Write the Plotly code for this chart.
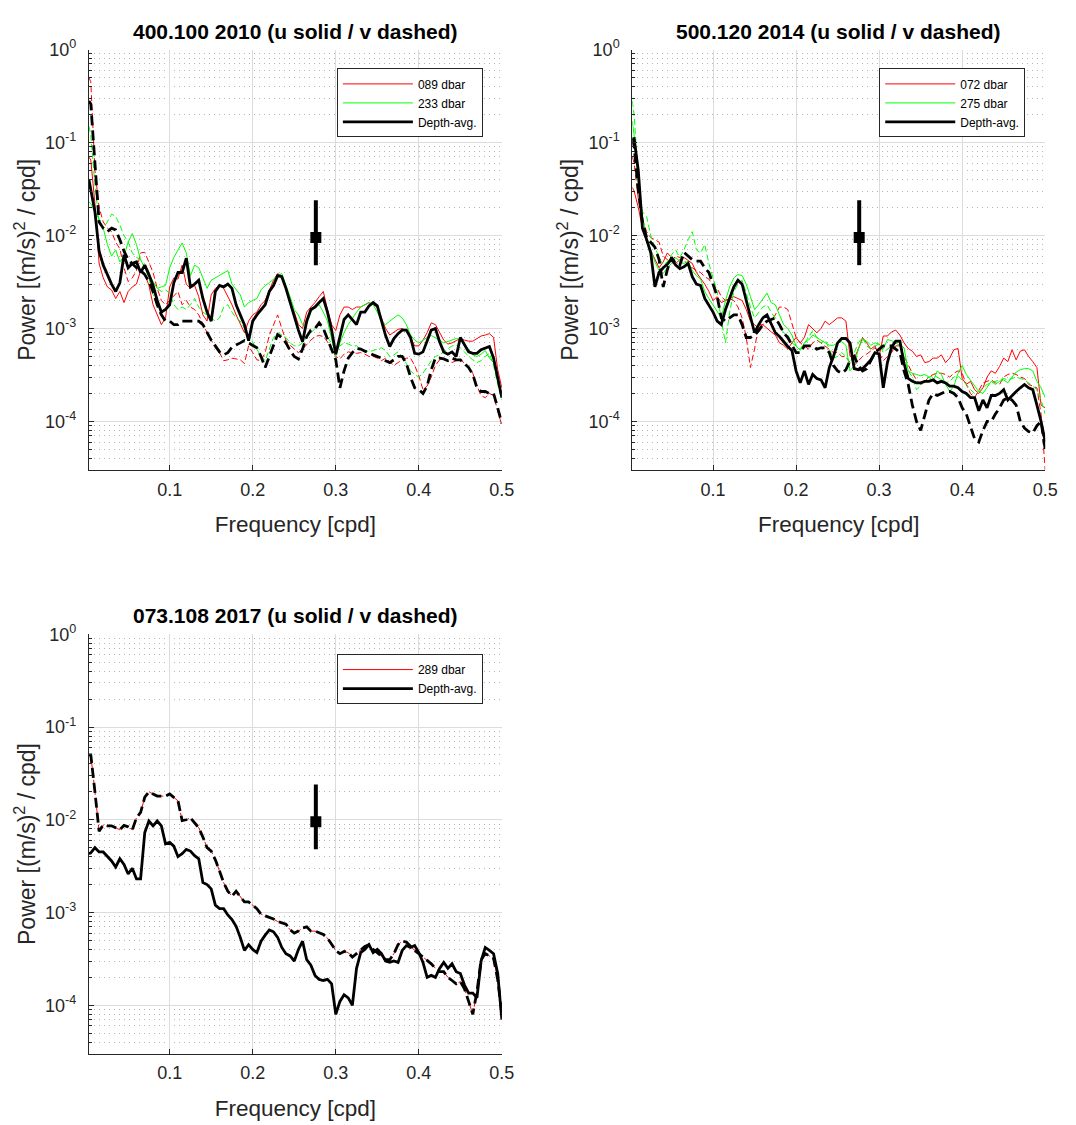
import plotly.graph_objects as go

# ---------------- data ----------------
freq = [0.0027, 0.005, 0.010, 0.015, 0.020, 0.025, 0.030, 0.035, 0.040, 0.045,
        0.050, 0.055, 0.060, 0.065, 0.070, 0.075, 0.080, 0.085, 0.090, 0.095,
        0.100, 0.105, 0.110, 0.115, 0.120, 0.125, 0.130, 0.135, 0.140, 0.145,
        0.150, 0.155, 0.160, 0.165, 0.170, 0.175, 0.180, 0.185, 0.190, 0.195,
        0.200, 0.205, 0.210, 0.215, 0.220, 0.225, 0.230, 0.235, 0.240, 0.245,
        0.250, 0.255, 0.260, 0.265, 0.270, 0.275, 0.280, 0.285, 0.290, 0.295,
        0.300, 0.305, 0.310, 0.315, 0.320, 0.325, 0.330, 0.335, 0.340, 0.345,
        0.350, 0.355, 0.360, 0.365, 0.370, 0.375, 0.380, 0.385, 0.390, 0.395,
        0.400, 0.405, 0.410, 0.415, 0.420, 0.425, 0.430, 0.435, 0.440, 0.445,
        0.450, 0.455, 0.460, 0.465, 0.470, 0.475, 0.480, 0.485, 0.490, 0.495,
        0.500]

# Panel 1: 400.100 2010
p1_089_u = [0.07, 0.065, 0.022, 0.005, 0.0035, 0.0028, 0.0026, 0.0021, 0.0025, 0.0019,
            0.0025, 0.0028, 0.003, 0.0042, 0.0039, 0.0029, 0.0018, 0.0014, 0.0011, 0.0013,
            0.0028, 0.0035, 0.0034, 0.0048, 0.003, 0.0027, 0.0029, 0.0022, 0.0014, 0.0012,
            0.0023, 0.0027, 0.0029, 0.0027, 0.0022, 0.0018, 0.0014, 0.0011, 0.0009, 0.0012,
            0.0014, 0.0015, 0.0018, 0.002, 0.0026, 0.0033, 0.0039, 0.0037, 0.0028, 0.0019,
            0.0015, 0.0011, 0.001, 0.0015, 0.0017, 0.0019, 0.0022, 0.0025, 0.0016, 0.0011,
            0.00095, 0.0014, 0.0017, 0.0017, 0.0016, 0.0017, 0.0017, 0.0018, 0.0019, 0.0018,
            0.0017, 0.0013, 0.001, 0.00085, 0.00092, 0.00098, 0.001, 0.00095, 0.0008, 0.00065,
            0.00065, 0.00075, 0.0009, 0.00115, 0.0011, 0.0009, 0.00075, 0.00068, 0.0007, 0.00074,
            0.00078, 0.00075, 0.00073, 0.00073, 0.00078, 0.00083, 0.00085, 0.00088, 0.0008, 0.00036,
            0.00023]
p1_089_v = [0.5, 0.45, 0.05, 0.02, 0.014, 0.012, 0.011, 0.0085, 0.0072, 0.0045,
            0.0032, 0.0035, 0.0042, 0.0065, 0.0066, 0.0052, 0.004, 0.0027, 0.002, 0.0018,
            0.002, 0.0022, 0.0025, 0.0018, 0.002, 0.0017, 0.0016, 0.0014, 0.0011, 0.0009,
            0.00075, 0.00062, 0.00055, 0.00045, 0.00046, 0.00048, 0.00047, 0.00046, 0.00042, 0.00065,
            0.00055, 0.00046, 0.00045, 0.00055, 0.00085, 0.0011, 0.0014, 0.001, 0.00075, 0.00066,
            0.0006, 0.00055, 0.0006, 0.00068, 0.00075, 0.00082, 0.00084, 0.00082, 0.00072, 0.0006,
            0.0005, 0.00047, 0.00053, 0.00056, 0.00055, 0.00054, 0.00055, 0.00053, 0.0005, 0.0005,
            0.00048, 0.00045, 0.00048, 0.00044, 0.0004, 0.00043, 0.00046, 0.00048, 0.00048, 0.0004,
            0.00031, 0.00022, 0.00024, 0.0003, 0.0004, 0.00046, 0.00047, 0.00046, 0.00043, 0.00045,
            0.00047, 0.00042, 0.00038, 0.00033, 0.00024, 0.00019, 0.00018, 0.0002, 0.00019, 0.00013,
            0.00009]
p1_233_u = [0.023, 0.022, 0.018, 0.015, 0.012, 0.008, 0.006, 0.007, 0.0052, 0.006,
            0.0085, 0.0105, 0.008, 0.0055, 0.0045, 0.0038, 0.0031, 0.0027, 0.0028, 0.0029,
            0.0045, 0.0058, 0.007, 0.0083, 0.0065, 0.0037, 0.0048, 0.0045, 0.0035, 0.0027,
            0.0033, 0.0035, 0.0037, 0.004, 0.0042, 0.003, 0.0026, 0.0023, 0.0017, 0.0019,
            0.002, 0.0021, 0.0026, 0.0029, 0.0031, 0.0034, 0.0037, 0.0039, 0.003, 0.0022,
            0.0016, 0.0014, 0.0011, 0.0011, 0.0015, 0.0017, 0.0018, 0.0015, 0.0012, 0.0008,
            0.0005, 0.0007, 0.0009, 0.0011, 0.0013, 0.0015, 0.0017, 0.0018, 0.0019, 0.0018,
            0.0015, 0.0012, 0.0011, 0.0012, 0.0013, 0.0014, 0.0013, 0.0011, 0.00085, 0.00075,
            0.0007, 0.00075, 0.0008, 0.00084, 0.0008, 0.00075, 0.0007, 0.00072, 0.00075, 0.00078,
            0.00076, 0.00068, 0.0006, 0.00052, 0.0005, 0.00053, 0.00058, 0.00048, 0.00043, 0.0003,
            0.0002]
p1_233_v = [0.15, 0.12, 0.035, 0.014, 0.012, 0.014, 0.017, 0.016, 0.013, 0.01,
            0.0085, 0.0065, 0.0058, 0.0055, 0.0045, 0.0035, 0.0022, 0.0027, 0.0025, 0.0026,
            0.0024, 0.0018, 0.0016, 0.0017, 0.0016, 0.0018, 0.0021, 0.0017, 0.0015, 0.0014,
            0.0013, 0.0012, 0.0013, 0.0017, 0.0018, 0.0015, 0.0013, 0.0012, 0.001, 0.00085,
            0.0007, 0.0006, 0.0005, 0.00045, 0.0006, 0.0008, 0.0009, 0.00085, 0.0008, 0.0007,
            0.00065, 0.00065, 0.0007, 0.0008, 0.0009, 0.001, 0.0011, 0.001, 0.0008, 0.0007,
            0.0006, 0.00065, 0.0007, 0.00068, 0.00065, 0.00065, 0.0006, 0.00058, 0.00056, 0.00058,
            0.0006, 0.00062, 0.00058, 0.0005, 0.00052, 0.00056, 0.0005, 0.00042, 0.00035, 0.00032,
            0.0003, 0.00033, 0.00038, 0.00045, 0.0005, 0.00052, 0.00056, 0.0006, 0.00065, 0.00066,
            0.00062, 0.00056, 0.0005, 0.00046, 0.00043, 0.00045, 0.0005, 0.00054, 0.0004, 0.00025,
            0.00017]
p1_avg_u = [0.04, 0.03, 0.018, 0.0068, 0.0048, 0.0038, 0.003, 0.0025, 0.0031, 0.0062,
            0.0045, 0.005, 0.0052, 0.004, 0.0048, 0.0038, 0.0029, 0.002, 0.0015, 0.0016,
            0.0018, 0.0031, 0.004, 0.004, 0.0057, 0.0028, 0.003, 0.0033, 0.0021, 0.0015,
            0.0012, 0.0025, 0.0029, 0.0028, 0.003, 0.0027, 0.0018, 0.0014, 0.0011, 0.00074,
            0.0012, 0.0014, 0.0016, 0.0018, 0.0025, 0.0029, 0.0037, 0.0036, 0.0027, 0.0019,
            0.0014, 0.00096, 0.00072, 0.0012, 0.0016, 0.0017, 0.0019, 0.0021, 0.0015, 0.00096,
            0.00053, 0.00084, 0.00125, 0.0014, 0.00125, 0.0011, 0.0015, 0.0015, 0.00175, 0.0019,
            0.00175, 0.00125, 0.00084, 0.00064, 0.00078, 0.00088, 0.00096, 0.00096, 0.0008, 0.00054,
            0.00053, 0.00056, 0.00072, 0.00096, 0.001, 0.00072, 0.00056, 0.00053, 0.00056, 0.0005,
            0.0008, 0.00067, 0.00056, 0.00054, 0.00054, 0.00059, 0.00062, 0.00064, 0.00048, 0.00028,
            0.00018]
p1_avg_v = [0.28, 0.26, 0.06, 0.014, 0.012, 0.011, 0.012, 0.0115, 0.009, 0.0068,
            0.0055, 0.005, 0.0045, 0.0042, 0.0038, 0.0032, 0.0025, 0.0018, 0.0014, 0.0012,
            0.0012, 0.0011, 0.0011, 0.0012, 0.0012, 0.0012, 0.0012, 0.0012, 0.0011, 0.0009,
            0.00075, 0.00065, 0.00056, 0.00052, 0.00055, 0.00063, 0.00067, 0.0007, 0.00074, 0.0007,
            0.00066, 0.00062, 0.0005, 0.00038, 0.0005, 0.00065, 0.00086, 0.0008, 0.0007, 0.00058,
            0.0005, 0.00047, 0.0006, 0.00082, 0.00096, 0.001, 0.00115, 0.001, 0.00078, 0.0006,
            0.00046, 0.00023, 0.00035, 0.00048, 0.00055, 0.00061, 0.0006, 0.00057, 0.00055, 0.00052,
            0.0005, 0.00048, 0.00045, 0.00043, 0.00046, 0.0005, 0.0005, 0.00042, 0.0003, 0.00023,
            0.00022, 0.0002, 0.00024, 0.00036, 0.00048, 0.00048, 0.00047, 0.00045, 0.00048, 0.00046,
            0.00046, 0.00042, 0.00038, 0.00032, 0.00023, 0.00021, 0.00021, 0.0002, 0.0002, 0.00014,
            0.000095]

# Panel 2: 500.120 2014
p2_072_u = [0.033, 0.03, 0.02, 0.012, 0.0085, 0.0068, 0.0055, 0.0045, 0.0052, 0.0065,
            0.0058, 0.005, 0.0055, 0.0058, 0.0054, 0.005, 0.004, 0.0035, 0.003, 0.0025,
            0.002, 0.0022, 0.0019, 0.002, 0.0021, 0.0022, 0.0021, 0.002, 0.0016, 0.0012,
            0.0011, 0.001, 0.0011, 0.001, 0.00092, 0.00085, 0.0007, 0.00066, 0.0006, 0.0007,
            0.0008, 0.0007, 0.0008, 0.0011, 0.001, 0.0009, 0.001, 0.0012, 0.0011, 0.0012,
            0.0013, 0.0013, 0.0012, 0.0005, 0.00048, 0.0006, 0.0008, 0.0007, 0.0006, 0.00065,
            0.0005, 0.00083, 0.00083, 0.00092, 0.00096, 0.00085, 0.0007, 0.00061, 0.00057, 0.0005,
            0.00052, 0.00043, 0.00044, 0.00048, 0.00048, 0.00052, 0.00043, 0.00048, 0.00059, 0.00061,
            0.00029, 0.00025, 0.00027, 0.00022, 0.0002, 0.00023, 0.0003, 0.00035, 0.00033, 0.00039,
            0.00048, 0.00044, 0.00059, 0.00046, 0.00057, 0.00059, 0.0005, 0.00044, 0.00038, 0.00015,
            0.00014]
p2_072_v = [0.07, 0.06, 0.025, 0.015, 0.011, 0.0095, 0.009, 0.0085, 0.006, 0.0055,
            0.0053, 0.006, 0.0058, 0.0055, 0.0047, 0.0045, 0.0042, 0.004, 0.0036, 0.0034,
            0.0029, 0.0027, 0.0022, 0.002, 0.0021, 0.002, 0.0017, 0.0013, 0.0008, 0.00038,
            0.0006, 0.0011, 0.0011, 0.0012, 0.0012, 0.0014, 0.0017, 0.0017, 0.0016, 0.0011,
            0.0008, 0.0007, 0.00065, 0.0006, 0.0007, 0.00075, 0.0007, 0.00065, 0.0006, 0.00055,
            0.00055, 0.0005, 0.0005, 0.00043, 0.0004, 0.00045, 0.0005, 0.00053, 0.00058, 0.00062,
            0.00055, 0.00045, 0.0005, 0.00055, 0.00065, 0.00065, 0.0005, 0.0004, 0.00033, 0.00028,
            0.00025, 0.00027, 0.0003, 0.00032, 0.00033, 0.00033, 0.00032, 0.0003, 0.00033, 0.00035,
            0.00033, 0.00025, 0.0002, 0.00018, 0.00022, 0.00026, 0.00027, 0.00028, 0.00026, 0.00025,
            0.0003, 0.00032, 0.00033, 0.00032, 0.0003, 0.00029, 0.00025, 0.00024, 0.00023, 0.00012,
            0.00003]
p2_275_u = [0.17, 0.12, 0.035, 0.016, 0.0095, 0.0072, 0.0052, 0.0042, 0.0039, 0.0045,
            0.005, 0.0058, 0.0053, 0.005, 0.0053, 0.0042, 0.0037, 0.0034, 0.0025, 0.0021,
            0.0018, 0.0015, 0.0013, 0.002, 0.0028, 0.0035, 0.0038, 0.0037, 0.003, 0.0022,
            0.0016, 0.0018, 0.0021, 0.0024, 0.0019, 0.0018, 0.0014, 0.0011, 0.001, 0.00085,
            0.00065, 0.00058, 0.0007, 0.00075, 0.00085, 0.0008, 0.00075, 0.0007, 0.00066, 0.00066,
            0.0007, 0.00072, 0.00066, 0.00035, 0.0004, 0.0006, 0.00076, 0.00073, 0.00066, 0.0007,
            0.00068, 0.0006, 0.00076, 0.00074, 0.0007, 0.00066, 0.00062, 0.00035, 0.00033, 0.00032,
            0.00031, 0.00032, 0.0003, 0.00027, 0.00035, 0.00032, 0.00025, 0.00021, 0.00024, 0.00033,
            0.0004, 0.00032, 0.00028, 0.00024, 0.00021, 0.0002, 0.00023, 0.00027, 0.00025, 0.00027,
            0.00028, 0.00026, 0.0003, 0.00034, 0.00036, 0.00037, 0.00037, 0.00035, 0.00027, 0.00023,
            0.00018]
p2_275_v = [0.28, 0.2, 0.04, 0.018, 0.016, 0.01, 0.0075, 0.0058, 0.0048, 0.0052,
            0.0062, 0.007, 0.0058, 0.007, 0.009, 0.011, 0.007, 0.0065, 0.008, 0.005,
            0.0035, 0.0025, 0.0012, 0.0007, 0.0015, 0.0025, 0.003, 0.0033, 0.0024, 0.0017,
            0.0013, 0.0015, 0.0017, 0.0018, 0.0015, 0.0013, 0.0011, 0.0009, 0.00085, 0.0007,
            0.00065, 0.0006, 0.0007, 0.0008, 0.00095, 0.0008, 0.0007, 0.00075, 0.0006, 0.00048,
            0.0005, 0.00055, 0.0005, 0.00042, 0.00055, 0.0007, 0.0008, 0.00065, 0.0006, 0.00065,
            0.00068, 0.00055, 0.0006, 0.00065, 0.0007, 0.00065, 0.0005, 0.00035, 0.0003, 0.00022,
            0.00024, 0.00028, 0.0003, 0.00031, 0.0003, 0.00028, 0.00026, 0.00027, 0.0003, 0.00031,
            0.00028, 0.00025, 0.00022, 0.0002, 0.00021, 0.00023, 0.00025, 0.00026, 0.00027, 0.00028,
            0.00029, 0.00028, 0.00029, 0.0003, 0.00029, 0.00028, 0.00026, 0.00024, 0.00022, 0.00017,
            0.00012]
p2_avg_u = [0.11, 0.11, 0.05, 0.012, 0.0091, 0.0065, 0.0028, 0.004, 0.0045, 0.0049,
            0.0056, 0.0048, 0.0044, 0.0046, 0.005, 0.0036, 0.003, 0.0029, 0.0021, 0.0018,
            0.0015, 0.0012, 0.0011, 0.0016, 0.0021, 0.0028, 0.0033, 0.003, 0.002, 0.0013,
            0.0009, 0.0011, 0.0013, 0.0014, 0.0011, 0.0009, 0.00082, 0.00072, 0.00064, 0.00058,
            0.00035, 0.00026, 0.00035, 0.00025, 0.00032, 0.00029, 0.00028, 0.00023, 0.00038, 0.0005,
            0.0007, 0.00078, 0.00078, 0.0007, 0.00037, 0.00036, 0.00037, 0.00041, 0.00046, 0.00055,
            0.00053, 0.00023, 0.00043, 0.00063, 0.00073, 0.00073, 0.00042, 0.00029, 0.00027, 0.00026,
            0.00026, 0.00027, 0.00027, 0.00028, 0.00026, 0.00027, 0.00026, 0.00024, 0.00024, 0.00023,
            0.00021, 0.0002, 0.00018, 0.00018, 0.00013, 0.00017, 0.00014, 0.00019, 0.00019, 0.0002,
            0.00022, 0.00017, 0.00019, 0.00021, 0.00023, 0.00025, 0.00023, 0.00022, 0.00015, 0.0001,
            0.00006]
p2_avg_v = [0.11, 0.09, 0.03, 0.014, 0.0095, 0.0085, 0.0075, 0.0055, 0.0028, 0.0043,
            0.0058, 0.005, 0.0048, 0.0066, 0.006, 0.0055, 0.0053, 0.0053, 0.0045, 0.004,
            0.003, 0.0022, 0.0013, 0.0012, 0.0013, 0.0014, 0.0014, 0.0011, 0.0008, 0.0008,
            0.00085, 0.00095, 0.0011, 0.0012, 0.00125, 0.0013, 0.0011, 0.0009, 0.0008, 0.00065,
            0.00055, 0.00055, 0.00065, 0.00065, 0.00065, 0.0006, 0.00062, 0.00062, 0.00055, 0.0004,
            0.00035, 0.00033, 0.00036, 0.00045, 0.0005, 0.0004, 0.00035, 0.00037, 0.00045, 0.00055,
            0.0006, 0.00065, 0.00065, 0.00065, 0.0006, 0.00055, 0.00035, 0.00025, 0.00015, 0.0001,
            0.00008, 0.00012, 0.00017, 0.0002, 0.00019, 0.0002, 0.00021, 0.00021, 0.0002, 0.00018,
            0.00014, 0.00012, 0.00009, 0.000065, 0.00006, 0.00008, 0.0001, 0.0001, 0.00012, 0.00014,
            0.00017, 0.00018, 0.00017, 0.00015, 0.0001, 0.000085, 0.000078, 0.000075, 0.00009, 0.0001,
            0.00005]

# Panel 3: 073.108 2017 (single instrument, so depth average equals it)
p3_289_u = [0.0043, 0.0044, 0.005, 0.0045, 0.0045, 0.004, 0.0036, 0.0031, 0.0038, 0.0033,
            0.0026, 0.003, 0.0023, 0.0023, 0.0073, 0.0097, 0.0086, 0.0097, 0.0086, 0.0055,
            0.0057, 0.0052, 0.004, 0.0043, 0.0048, 0.0046, 0.0041, 0.0038, 0.0021, 0.002,
            0.0018, 0.0012, 0.0011, 0.0011, 0.00094, 0.00084, 0.00071, 0.00054, 0.00039, 0.00045,
            0.0004, 0.00037, 0.00049, 0.00057, 0.00065, 0.00062, 0.00054, 0.00042, 0.00036, 0.00034,
            0.0003, 0.0004, 0.00049, 0.00031, 0.00027, 0.00021, 0.00019, 0.000185, 0.00019, 0.00017,
            0.00008, 0.00011, 0.00013, 0.00012, 0.0001, 0.00025, 0.00037, 0.0004, 0.00045, 0.00037,
            0.0004, 0.00036, 0.0003, 0.00029, 0.0003, 0.00029, 0.00039, 0.00044, 0.00042, 0.00044,
            0.00037, 0.00029, 0.0002, 0.00021, 0.0002, 0.00025, 0.00029, 0.00025, 0.00028, 0.00023,
            0.00022, 0.000165, 0.000135, 0.000135, 0.00012, 0.0003, 0.00042, 0.00039, 0.00036, 0.00022,
            0.00007]
p3_289_v = [0.05, 0.05, 0.02, 0.0075, 0.0088, 0.0086, 0.0086, 0.0082, 0.0078, 0.0087,
            0.0084, 0.0078, 0.0105, 0.012, 0.0175, 0.02, 0.019, 0.018, 0.018, 0.018,
            0.019, 0.0175, 0.016, 0.0098, 0.01, 0.0105, 0.0093, 0.0082, 0.0065, 0.005,
            0.0046, 0.0037, 0.0028, 0.0021, 0.0017, 0.0015, 0.0017, 0.0015, 0.0013, 0.0013,
            0.0012, 0.0011, 0.00096, 0.00092, 0.00089, 0.00085, 0.0008, 0.00077, 0.00075, 0.00065,
            0.0006, 0.00063, 0.00068, 0.0007, 0.00063, 0.00063, 0.0006, 0.00058, 0.00053, 0.00046,
            0.00039, 0.00036, 0.00038, 0.00037, 0.00033, 0.00036, 0.00039, 0.00043, 0.00045, 0.0004,
            0.00037, 0.00034, 0.00031, 0.00031, 0.00036, 0.00045, 0.00049, 0.00048, 0.00043, 0.00039,
            0.00036, 0.00033, 0.00031, 0.00028, 0.00025, 0.00023, 0.00023, 0.0002, 0.000185, 0.00017,
            0.00018, 0.00015, 0.00011, 0.00008, 0.00014, 0.00031, 0.00036, 0.00034, 0.00032, 0.00019,
            0.00008]
p3_avg_u = p3_289_u
p3_avg_v = p3_289_v

# 95% confidence bar drawn in every panel
errbar_f = [0.276]
errbar_p = [0.0095]
errbar_hi = [0.024]
errbar_lo = [0.0048]

titles = ["400.100 2010 (u solid / v dashed)",
          "500.120 2014 (u solid / v dashed)",
          "073.108 2017 (u solid / v dashed)"]
panel_series = [
    [("089 dbar", "#ff0000", p1_089_u, p1_089_v),
     ("233 dbar", "#00ff00", p1_233_u, p1_233_v),
     ("Depth-avg.", "#000000", p1_avg_u, p1_avg_v)],
    [("072 dbar", "#ff0000", p2_072_u, p2_072_v),
     ("275 dbar", "#00ff00", p2_275_u, p2_275_v),
     ("Depth-avg.", "#000000", p2_avg_u, p2_avg_v)],
    [("289 dbar", "#ff0000", p3_289_u, p3_289_v),
     ("Depth-avg.", "#000000", p3_avg_u, p3_avg_v)],
]
ytick_vals = [1e-4, 1e-3, 1e-2, 1e-1, 1]
ytick_text = ["10<sup>-4</sup>", "10<sup>-3</sup>", "10<sup>-2</sup>", "10<sup>-1</sup>", "10<sup>0</sup>"]
xtick_vals = [0.1, 0.2, 0.3, 0.4, 0.5]
xtick_text = ["0.1", "0.2", "0.3", "0.4", "0.5"]
ymin_minor = [k * 10.0 ** e for e in (-5, -4, -3, -2, -1) for k in range(2, 10)]

# ---------------- figure ----------------
FONT = "Liberation Sans, Arial, Helvetica, sans-serif"
W, H = 1076, 1125

# plot-area boxes in pixels (left, right, top, bottom)
boxes = [(90, 508, 38, 463), (640, 1058, 38, 463), (90, 508, 629, 1053)]
axis_ids = [("x", "y", "legend"), ("x2", "y2", "legend2"), ("x3", "y3", "legend3")]
legend_pos = [(341, 57), (890, 57), (341, 649)]

fig = go.Figure()

for i, series in enumerate(panel_series):
    xa, ya, lg = axis_ids[i]
    for name, color, u, v in series:
        thick = color == "#000000"
        lw = 2.8 if thick else 1.0
        fig.add_trace(go.Scatter(
            x=freq, y=u, mode="lines", name=name,
            line=dict(color=color, width=lw),
            xaxis=xa, yaxis=ya, legend=lg, showlegend=True, hoverinfo="skip"))
        fig.add_trace(go.Scatter(
            x=freq, y=v, mode="lines", name=name + " v",
            line=dict(color=color, width=lw, dash="10px,5px" if thick else "6px,3px"),
            xaxis=xa, yaxis=ya, legend=lg, showlegend=False, hoverinfo="skip"))
    fig.add_trace(go.Scatter(
        x=errbar_f, y=errbar_p, mode="markers",
        marker=dict(symbol="square", size=11, color="black"),
        error_y=dict(type="data", symmetric=False,
                     array=[errbar_hi[0] - errbar_p[0]],
                     arrayminus=[errbar_p[0] - errbar_lo[0]],
                     thickness=4, width=0, color="black"),
        xaxis=xa, yaxis=ya, showlegend=False, hoverinfo="skip"))

layout = dict(
    width=W, height=H, autosize=False,
    margin=dict(l=0, r=0, t=0, b=0),
    paper_bgcolor="white", plot_bgcolor="white",
    font=dict(family=FONT, color="#262626"),
    annotations=[],
)

for i, (l, r, t, b) in enumerate(boxes):
    xa, ya, lg = axis_ids[i]
    xkey = "xaxis" if xa == "x" else "xaxis" + xa[1:]
    ykey = "yaxis" if ya == "y" else "yaxis" + ya[1:]
    layout[xkey] = dict(
        domain=[l / W, r / W], anchor=ya,
        range=[0.00274, 0.5], tickmode="array", tickvals=xtick_vals, ticktext=xtick_text,
        showgrid=True, gridcolor="#dcdcdc", gridwidth=1, zeroline=False,
        showline=True, linecolor="#262626", linewidth=1, mirror=False,
        ticks="inside", ticklen=5, tickcolor="#262626",
        tickfont=dict(size=18, family=FONT, color="#262626"),
        ticklabelstandoff=3,
        title=dict(text="Frequency [cpd]", font=dict(size=22.5, family=FONT, color="#262626"),
                   standoff=17),
    )
    layout[ykey] = dict(
        domain=[1 - b / H, 1 - t / H], anchor=xa, type="log",
        range=[-4.523, 0], tickmode="array", tickvals=ytick_vals, ticktext=ytick_text,
        showgrid=True, gridcolor="#dcdcdc", gridwidth=1, zeroline=False,
        showline=True, linecolor="#262626", linewidth=1, mirror=False,
        ticks="inside", ticklen=5, tickcolor="#262626",
        tickfont=dict(size=18, family=FONT, color="#262626"),
        ticklabelstandoff=8,
        minor=dict(tickmode="array", tickvals=ymin_minor, ticks="inside", ticklen=3,
                   tickcolor="#262626", showgrid=True, gridcolor="#b4b4b4",
                   griddash="1px,4px", gridwidth=1),
        title=dict(text="Power [(m/s)<sup>2</sup> / cpd]",
                   font=dict(size=23, family=FONT, color="#262626"), standoff=3),
    )
    lx, ly = legend_pos[i]
    layout[lg] = dict(
        x=lx / W, y=1 - ly / H, xanchor="left", yanchor="top",
        bgcolor="white", bordercolor="#262626", borderwidth=1,
        font=dict(size=12, family=FONT, color="#000000"),
        itemwidth=70, tracegroupgap=0,
    )
    layout["annotations"].append(dict(
        text="<b>" + titles[i] + "</b>", xref=xa + " domain", yref=ya + " domain",
        x=0.5, y=1, xanchor="center", yanchor="bottom", yshift=5, showarrow=False,
        font=dict(size=21, family=FONT, color="#000000"),
    ))

fig.update_layout(**layout)
fig.write_html("out.html", config={"displayModeBar": False})
